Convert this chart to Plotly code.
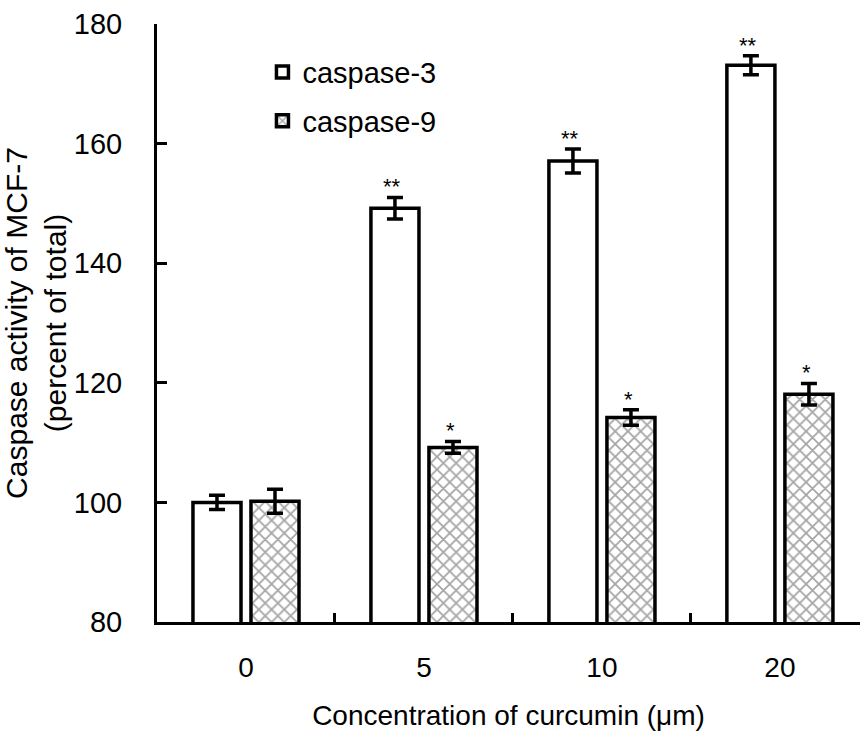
import plotly.graph_objects as go

categories = ["0", "5", "10", "20"]
casp3 = [100.0, 149.2, 157.1, 173.1]
casp3_err = [1.2, 1.8, 2.0, 1.6]
casp9 = [100.2, 109.2, 114.2, 118.1]
casp9_err = [2.0, 1.0, 1.3, 1.8]
casp3_sig = ["", "**", "**", "**"]
casp9_sig = ["", "*", "*", "*"]

FONT = "Liberation Sans, Arial, sans-serif"

fig = go.Figure()
fig.add_trace(go.Bar(
    name="caspase-3", x=categories, y=casp3, legendgroup="a",
    marker=dict(color="white", line=dict(color="black", width=3.5)),
    error_y=dict(type="data", array=casp3_err, color="black", thickness=3.5, width=8),
))
fig.add_trace(go.Bar(
    name="caspase-9", x=categories, y=casp9, legendgroup="b",
    marker=dict(color="white", line=dict(color="black", width=3.5),
                pattern=dict(shape="x", fgcolor="#4a4a4a", bgcolor="white", size=9, solidity=0.35)),
    error_y=dict(type="data", array=casp9_err, color="black", thickness=3.5, width=8),
))

annotations = []
for i, c in enumerate(categories):
    for off, vals, errs, sig in ((-0.18, casp3, casp3_err, casp3_sig), (0.147, casp9, casp9_err, casp9_sig)):
        if sig[i]:
            annotations.append(dict(
                x=i + off, y=vals[i] + errs[i], xref="x", yref="y",
                text=sig[i], showarrow=False, yanchor="bottom", yshift=-4,
                font=dict(family=FONT, size=22, color="black"),
            ))

fig.update_layout(
    width=860, height=733,
    margin=dict(l=157, r=0, t=24, b=111),
    paper_bgcolor="white", plot_bgcolor="white",
    barmode="group", bargap=0.348, bargroupgap=0.172,
    font=dict(family=FONT, size=28, color="black"),
    showlegend=True,
    legend=dict(x=0.15, y=0.962, xanchor="left", yanchor="top",
                bgcolor="rgba(0,0,0,0)", font=dict(size=29), tracegroupgap=8,
                traceorder="grouped", itemwidth=30),
    xaxis=dict(
        type="category", range=[-0.5, 3.45],
        showline=True, linecolor="black", linewidth=3,
        ticks="inside", tickson="boundaries", ticklen=9, tickwidth=3, tickcolor="black",
        ticklabelstandoff=18, tickfont=dict(size=28),
        showgrid=False, zeroline=False,
        title=dict(text="Concentration of curcumin (μm)", font=dict(size=28), standoff=24),
    ),
    yaxis=dict(
        range=[80, 180], dtick=20,
        showline=True, linecolor="black", linewidth=3,
        ticks="inside", ticklen=10, tickwidth=3, tickcolor="black",
        ticklabelstandoff=26, tickfont=dict(size=29),
        showgrid=False, zeroline=False,
        title=dict(text="Caspase activity of MCF-7<br>(percent of total)", font=dict(size=30), standoff=2),
    ),
    annotations=annotations,
)

fig.write_html("out.html")
